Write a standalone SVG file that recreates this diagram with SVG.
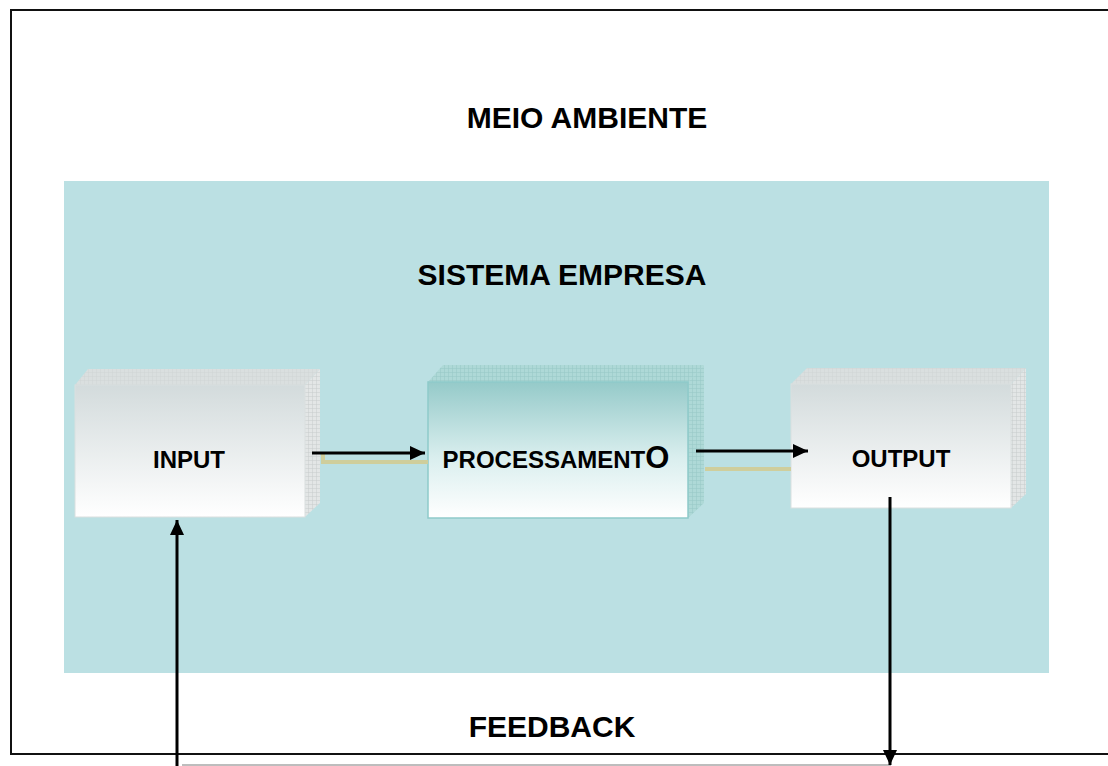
<svg xmlns="http://www.w3.org/2000/svg" width="1108" height="766" viewBox="0 0 1108 766">
<style>
.t{font-family:"Liberation Sans",Arial,sans-serif;font-weight:bold;fill:#000;text-anchor:middle}
.big{font-size:30px}
.lab{font-size:24px}
.arr{stroke:#000;stroke-width:3;fill:none}
.kh{stroke:#CFCE9C;stroke-width:4;fill:none}
</style>
<defs>
<marker id="ah" markerUnits="userSpaceOnUse" markerWidth="16" markerHeight="16" refX="15" refY="7" orient="auto">
<path d="M0,0 L15,7 L0,14 z" fill="#000"/>
</marker>
<linearGradient id="gGray" x1="0" y1="0" x2="0" y2="1">
<stop offset="0" stop-color="#D3DBDC"/>
<stop offset="1" stop-color="#FFFFFF"/>
</linearGradient>
<linearGradient id="gTeal" x1="0" y1="0" x2="0" y2="1">
<stop offset="0" stop-color="#95CAC9"/>
<stop offset="0.55" stop-color="#D9EEEE"/>
<stop offset="1" stop-color="#FFFFFF"/>
</linearGradient>
<pattern id="pGray" width="4" height="4" patternUnits="userSpaceOnUse">
<rect width="4" height="4" fill="#E3E6E6"/>
<path d="M0,0H4M0,0V4" stroke="#C8CCCC" stroke-width="1"/>
</pattern>
<pattern id="pGrayTop" width="4" height="4" patternUnits="userSpaceOnUse">
<rect width="4" height="4" fill="#DADFDF"/>
<path d="M0,0H4M0,0V4" stroke="#D0D5D5" stroke-width="1"/>
</pattern>
<pattern id="pTeal" width="4" height="4" patternUnits="userSpaceOnUse">
<rect width="4" height="4" fill="#AED9D7"/>
<path d="M0,0H4M0,0V4" stroke="#96C8C6" stroke-width="1"/>
</pattern>
</defs>

<g id="meio-ambiente">
<rect x="11" y="10" width="1110" height="744" fill="#FFFFFF" stroke="#111" stroke-width="2"/>
<text class="t big" x="587" y="128">MEIO AMBIENTE</text>
</g>

<g id="sistema-empresa">
<rect x="64" y="181" width="985" height="492" fill="#BBE0E3"/>
<text class="t big" x="562" y="285">SISTEMA EMPRESA</text>
</g>

<g id="input">
<polygon points="75,385 88,369 320,369 305,385" fill="url(#pGrayTop)"/>
<polygon points="305,385 320,369 320,503 305,517" fill="url(#pGray)"/>
<rect x="75" y="385" width="230" height="132" fill="url(#gGray)" stroke="#DADFDF" stroke-width="1"/>
<text class="t lab" x="189" y="468">INPUT</text>
</g>

<g id="processamento">
<polygon points="428,382 443,365 704,365 688,382" fill="url(#pTeal)"/>
<polygon points="688,382 704,365 704,503 688,518" fill="url(#pTeal)"/>
<rect x="428" y="382" width="260" height="136" fill="url(#gTeal)" stroke="#8FCACA" stroke-width="1.5"/>
<text class="t lab" x="556" y="468">PROCESSAMENT<tspan font-size="31px">O</tspan></text>
</g>

<g id="output">
<polygon points="791,384 807,368 1026,368 1011,384" fill="url(#pGrayTop)"/>
<polygon points="1011,384 1026,368 1026,494 1011,508" fill="url(#pGray)"/>
<rect x="791" y="384" width="220" height="124" fill="url(#gGray)" stroke="#DADFDF" stroke-width="1"/>
<text class="t lab" x="901" y="467">OUTPUT</text>
</g>

<g id="feedback">
<text class="t big" x="552" y="737">FEEDBACK</text>
</g>

<g id="connectors">
<path class="kh" d="M323,454 V462 H428"/>
<path class="kh" d="M705,469 H791"/>
<line class="arr" x1="312" y1="453" x2="425" y2="453" marker-end="url(#ah)"/>
<line class="arr" x1="696" y1="451" x2="808" y2="451" marker-end="url(#ah)"/>
<line x1="182" y1="765" x2="891" y2="765" stroke="#BDBDBD" stroke-width="2"/>
<line class="arr" x1="177" y1="766" x2="177" y2="520" marker-end="url(#ah)"/>
<line class="arr" x1="890" y1="497" x2="890" y2="765" marker-end="url(#ah)"/>
</g>
</svg>
